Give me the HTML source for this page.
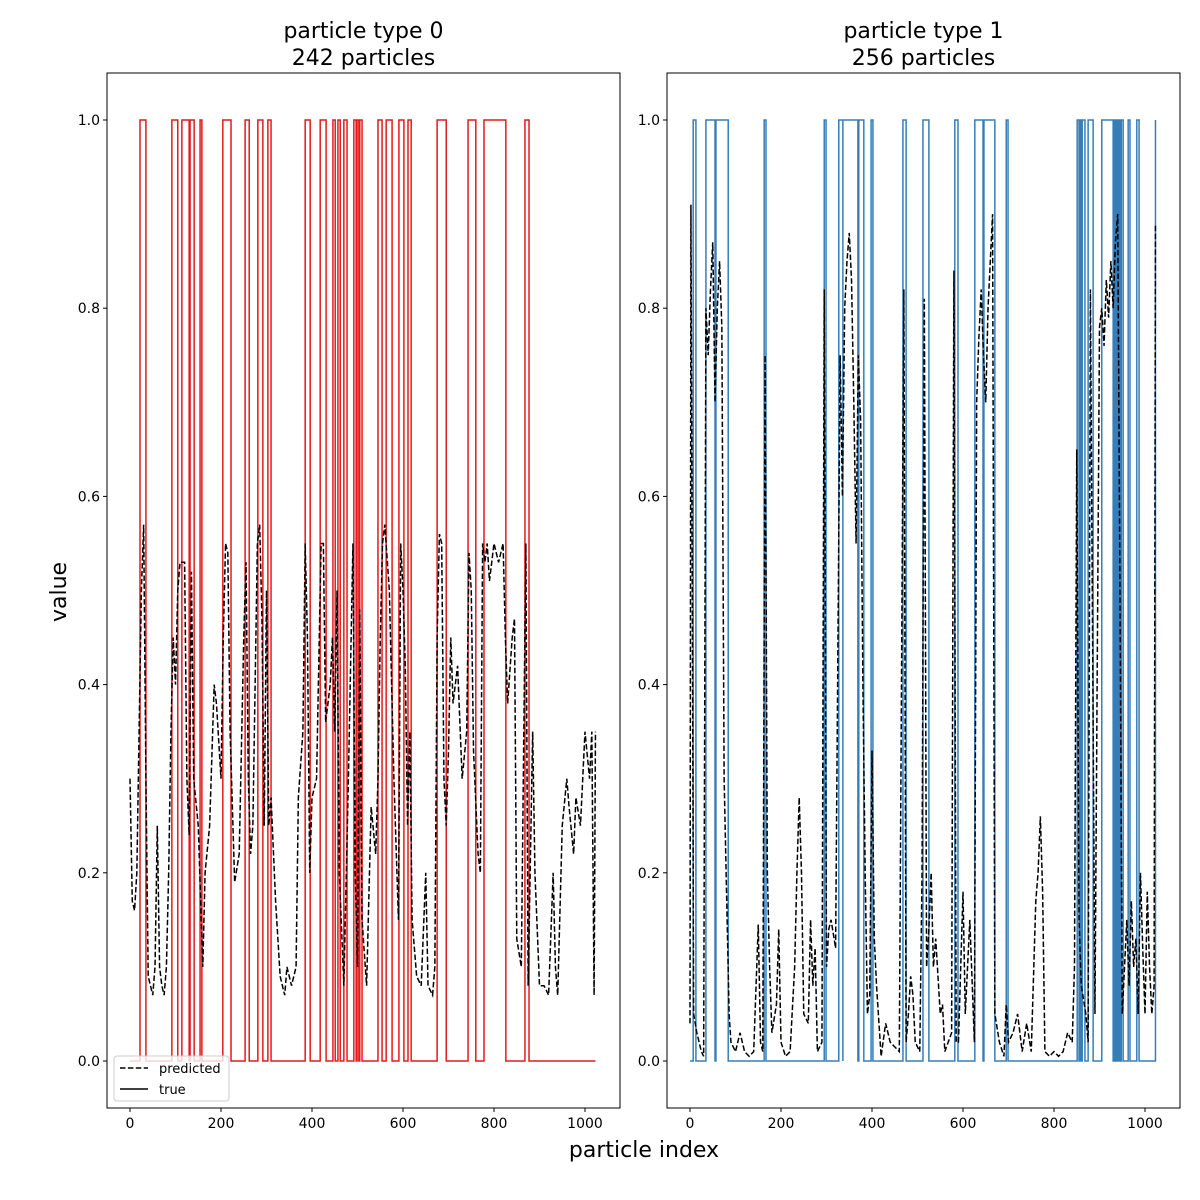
<!DOCTYPE html>
<html><head><meta charset="utf-8"><style>
body{margin:0;background:#fff}
svg{display:block;font-family:"DejaVu Sans","Liberation Sans",sans-serif}
</style></head><body>
<svg id="chart" width="1200" height="1200" viewBox="0 0 1200 1200"></svg>
<script>
// ---- data ----
const yTicks = [0.0, 0.2, 0.4, 0.6, 0.8, 1.0];
const xTicks = [0, 200, 400, 600, 800, 1000];
const titles0 = ["particle type 0", "242 particles"];
const titles1 = ["particle type 1", "256 particles"];
const trueIntervals0 = [[22,35],[92,105],[114,130],[132,141],[154,158],[204,222],[253,262],[281,292],[303,310],[385,396],[418,431],[446,451],[457,462],[470,477],[492,497],[499,503],[505,510],[545,554],[563,576],[591,602],[611,618],[675,695],[743,760],[778,826],[868,877]];
const predX0 = [0,5,10,15,20,25,30,35,40,45,50,55,60,65,70,75,80,85,90,95,100,105,110,115,120,125,130,135,140,150,160,165,175,185,190,200,205,210,215,220,230,240,250,255,260,265,270,280,285,290,295,300,305,310,320,330,340,345,355,365,370,380,385,390,395,400,410,420,425,430,440,445,450,455,460,470,480,490,495,500,505,510,520,530,540,545,550,555,560,570,580,590,595,600,605,610,615,620,630,640,650,655,665,670,675,680,685,690,695,700,705,710,720,730,740,745,750,755,765,770,775,780,785,790,795,800,810,820,825,830,840,845,850,860,870,875,885,890,900,910,920,930,935,940,950,960,965,975,980,990,1000,1010,1015,1020,1023];
const predY0 = [0.30,0.17,0.16,0.20,0.35,0.50,0.57,0.30,0.09,0.08,0.07,0.10,0.25,0.10,0.08,0.07,0.10,0.20,0.35,0.45,0.40,0.50,0.53,0.53,0.53,0.30,0.24,0.52,0.30,0.25,0.10,0.20,0.25,0.40,0.38,0.30,0.45,0.55,0.54,0.35,0.19,0.22,0.45,0.53,0.30,0.22,0.25,0.55,0.57,0.47,0.25,0.50,0.25,0.28,0.17,0.09,0.07,0.10,0.08,0.10,0.28,0.35,0.55,0.45,0.20,0.28,0.30,0.55,0.55,0.36,0.40,0.45,0.35,0.50,0.20,0.08,0.30,0.55,0.20,0.10,0.48,0.15,0.08,0.27,0.22,0.30,0.45,0.55,0.57,0.50,0.30,0.15,0.55,0.50,0.42,0.25,0.35,0.15,0.09,0.08,0.20,0.08,0.07,0.10,0.45,0.56,0.55,0.30,0.25,0.33,0.45,0.38,0.42,0.30,0.35,0.54,0.50,0.33,0.22,0.20,0.55,0.53,0.55,0.51,0.53,0.55,0.53,0.55,0.45,0.38,0.45,0.47,0.13,0.10,0.55,0.08,0.35,0.20,0.08,0.08,0.07,0.20,0.10,0.07,0.25,0.30,0.27,0.22,0.28,0.25,0.35,0.30,0.35,0.07,0.35];
const trueIntervals1 = [[7,13],[35,55],[57,84],[163,167],[295,299],[327,336],[336,369],[371,382],[398,402],[468,475],[512,525],[582,589],[626,644],[646,670],[695,699],[851,855],[857,860],[862,868],[875,886],[905,930],[932,935],[937,940],[943,946],[948,952],[963,967],[982,987],[1023,1026]];
const predX1 = [0,2,5,8,15,25,30,35,40,45,50,55,60,65,70,75,86,90,100,110,120,130,140,150,155,160,165,170,175,180,190,195,200,210,220,230,235,240,245,250,260,265,270,275,280,290,295,300,305,310,320,330,335,340,345,350,355,360,365,370,375,380,385,390,395,400,405,410,420,430,440,450,460,470,475,480,485,490,495,505,510,515,520,525,530,535,540,550,555,560,575,580,585,590,600,605,615,625,630,635,640,645,650,655,660,665,670,680,690,695,700,710,720,730,740,750,760,765,770,775,780,790,800,810,820,830,840,845,850,855,860,870,875,880,890,900,905,910,915,920,925,930,935,940,945,950,955,960,965,970,975,980,985,990,995,1000,1005,1010,1015,1020,1023];
const predY1 = [0.04,0.91,0.50,0.05,0.03,0.01,0.005,0.80,0.75,0.82,0.87,0.70,0.80,0.85,0.78,0.30,0.05,0.02,0.01,0.03,0.01,0.005,0.01,0.145,0.02,0.01,0.75,0.20,0.10,0.03,0.06,0.14,0.02,0.005,0.01,0.10,0.20,0.28,0.20,0.05,0.04,0.15,0.08,0.12,0.01,0.02,0.82,0.10,0.14,0.15,0.12,0.75,0.60,0.80,0.85,0.88,0.83,0.70,0.55,0.75,0.68,0.40,0.20,0.05,0.07,0.33,0.13,0.08,0.005,0.04,0.02,0.015,0.01,0.82,0.02,0.05,0.09,0.07,0.02,0.01,0.20,0.81,0.10,0.14,0.20,0.10,0.13,0.05,0.06,0.01,0.03,0.84,0.02,0.02,0.18,0.05,0.15,0.02,0.70,0.77,0.82,0.75,0.70,0.80,0.85,0.90,0.05,0.02,0.005,0.06,0.02,0.03,0.05,0.01,0.04,0.01,0.17,0.20,0.26,0.18,0.01,0.005,0.01,0.005,0.01,0.03,0.02,0.10,0.65,0.15,0.08,0.05,0.02,0.82,0.05,0.78,0.80,0.76,0.83,0.79,0.85,0.80,0.87,0.90,0.50,0.05,0.10,0.15,0.08,0.17,0.10,0.13,0.05,0.20,0.12,0.05,0.18,0.10,0.05,0.08,0.89];

// ---- drawing ----
const NS = "http://www.w3.org/2000/svg";
const svg = document.getElementById("chart");
function mk(tag, attrs, parent) {
  const e = document.createElementNS(NS, tag);
  for (const k in attrs) e.setAttribute(k, attrs[k]);
  (parent || svg).appendChild(e);
  return e;
}
const yScale = v => 1061 - v * 941;
function panel(x0, x1, intervals, px, py, color, titles, idx) {
  const xs = v => x0 + 23 + v * 0.455;
  const g = mk("g", {});
  
  
  let pts = [[0, 0]];
  intervals.forEach(iv => { pts.push([iv[0], 0], [iv[0], 1], [iv[1], 1], [iv[1], 0]); });
  pts.push([1023, 0]);
  const tl = mk("polyline", {points: pts.map(p => xs(Math.min(p[0],1023)) + "," + yScale(p[1])).join(" "), fill: "none", stroke: color, "stroke-width": 1.5}, g);
  
  
  const pl = mk("polyline", {points: px.map((x, i) => xs(x) + "," + yScale(py[i])).join(" "), fill: "none", stroke: "#000", "stroke-width": 1.5, "stroke-dasharray": "5.5,2.4"}, g);
  
  
  const fr = mk("rect", {x: x0, y: 73, width: x1 - x0, height: 1035, fill: "none", stroke: "#000", "stroke-width": 1}, g);
  
  
  yTicks.forEach(t => {
    const y = yScale(t);
    mk("line", {x1: x0 - 4, x2: x0, y1: y, y2: y, stroke: "#000"}, g);
    const tx = mk("text", {x: x0 - 7, y: y + 5, "text-anchor": "end", "font-size": 14}, g);
    tx.textContent = t.toFixed(1);
    
    
  });
  xTicks.forEach(t => {
    const x = xs(t);
    mk("line", {x1: x, x2: x, y1: 1108, y2: 1112, stroke: "#000"}, g);
    const tx = mk("text", {x: x, y: 1128, "text-anchor": "middle", "font-size": 14}, g);
    tx.textContent = t;
    
    
  });
  titles.forEach((s, i) => {
    const tt = mk("text", {x: (x0 + x1) / 2, y: 38 + i * 27, "text-anchor": "middle", "font-size": 22}, g);
    tt.textContent = s;
    
    
  });
}
panel(107, 620, trueIntervals0, predX0, predY0, "#e41a1c", titles0, 0);
panel(667, 1180, trueIntervals1, predX1, predY1, "#377eb8", titles1, 1);

const lg = mk("g", {});


mk("rect", {x: 114, y: 1056, width: 115, height: 45, rx: 3, fill: "#fff", "fill-opacity": 0.8, stroke: "#ccc"}, lg);
mk("line", {x1: 120, x2: 148, y1: 1068, y2: 1068, stroke: "#000", "stroke-width": 1.5, "stroke-dasharray": "5.5,2.4"}, lg);
mk("line", {x1: 120, x2: 148, y1: 1089, y2: 1089, stroke: "#000", "stroke-width": 1.5}, lg);
const l1 = mk("text", {x: 159, y: 1073, "font-size": 13}, lg); l1.textContent = "predicted";


const l2 = mk("text", {x: 159, y: 1094, "font-size": 13}, lg); l2.textContent = "true";



const yl = mk("text", {x: 0, y: 0, transform: "translate(66,592) rotate(-90)", "text-anchor": "middle", "font-size": 22});
yl.textContent = "value";


const xl = mk("text", {x: 644, y: 1157, "text-anchor": "middle", "font-size": 22});
xl.textContent = "particle index";


</script>
</body></html>
